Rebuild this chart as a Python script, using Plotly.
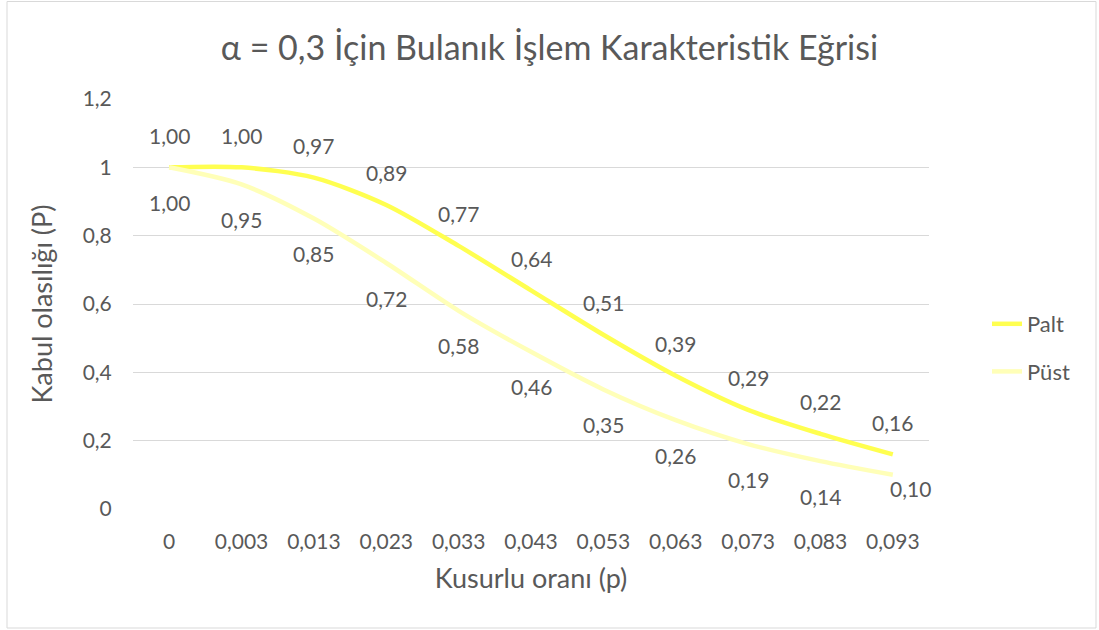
import plotly.graph_objects as go

categories = ["0", "0,003", "0,013", "0,023", "0,033", "0,043", "0,053", "0,063", "0,073", "0,083", "0,093"]
palt = [1.00, 1.00, 0.97, 0.89, 0.77, 0.64, 0.51, 0.39, 0.29, 0.22, 0.16]
pust = [1.00, 0.95, 0.85, 0.72, 0.58, 0.46, 0.35, 0.26, 0.19, 0.14, 0.10]
y_ticks = [0, 0.2, 0.4, 0.6, 0.8, 1.0, 1.2]

FONT = "Lato"
GRAY = "#595959"
C_ALT = "#FFFF50"
C_UST = "#FFFFB8"

fig = go.Figure()
fig.add_trace(go.Scatter(x=categories, y=palt, name="Palt", mode="lines",
                         line=dict(color=C_ALT, width=4.5, shape="spline", smoothing=0.8),
                         legendgroup="a"))
fig.add_trace(go.Scatter(x=categories, y=pust, name="Püst", mode="lines",
                         line=dict(color=C_UST, width=4.5, shape="spline", smoothing=0.8),
                         legendgroup="b"))

def fmt(v):
    return f"{v:.2f}".replace(".", ",")

ann = []
for c, v in zip(categories, palt):
    ann.append(dict(x=c, y=v, text=fmt(v), showarrow=False, yshift=32,
                    font=dict(family=FONT, size=21, color=GRAY)))
n = len(categories)
for i, (c, v) in enumerate(zip(categories, pust)):
    if i == n - 1:
        ann.append(dict(x=c, y=v, text=fmt(v), showarrow=False, yshift=-14, xshift=18,
                        font=dict(family=FONT, size=21, color=GRAY)))
    else:
        ann.append(dict(x=c, y=v, text=fmt(v), showarrow=False, yshift=-35,
                        font=dict(family=FONT, size=21, color=GRAY)))

L, R, T, B = 133, 170, 99, 121
W, H = 1099, 630
pw, ph = W - L - R, H - T - B
fig.add_shape(type="rect", xref="paper", yref="paper",
              x0=(7 - L) / pw, x1=(1096 - L) / pw,
              y0=(H - B - 628) / ph, y1=(H - B - 1.5) / ph,
              line=dict(color="#D9D9D9", width=1), fillcolor="rgba(0,0,0,0)", layer="below")

fig.update_layout(
    width=W, height=H,
    margin=dict(l=L, r=R, t=T, b=B),
    paper_bgcolor="white", plot_bgcolor="white",
    separators=", ",
    font=dict(family=FONT, size=21, color=GRAY),
    title=dict(text="α = 0,3 İçin Bulanık İşlem Karakteristik Eğrisi",
               x=0.5, xref="container", xanchor="center", y=(H - 48) / H, yanchor="middle",
               font=dict(family=FONT, size=34, color=GRAY)),
    xaxis=dict(type="category", range=[-0.5, n - 0.5], showgrid=False, zeroline=False,
               showline=False, ticks="outside", ticklen=14, tickcolor="rgba(0,0,0,0)",
               tickfont=dict(family=FONT, size=21, color=GRAY),
               title=dict(text="Kusurlu oranı (p)", standoff=16,
                          font=dict(family=FONT, size=27, color=GRAY))),
    yaxis=dict(range=[0, 1.2], tickvals=y_ticks, showgrid=True, gridcolor="#D9D9D9",
               gridwidth=1, zeroline=False, showline=False,
               ticks="outside", ticklen=16, tickcolor="rgba(0,0,0,0)",
               tickfont=dict(family=FONT, size=21, color=GRAY),
               title=dict(text="Kabul olasılığı (P)", standoff=22,
                          font=dict(family=FONT, size=27, color=GRAY))),
    legend=dict(x=(987 - L) / pw, xanchor="left", y=(H - B - 348) / ph, yanchor="middle",
                bgcolor="rgba(0,0,0,0)", tracegroupgap=16,
                font=dict(family=FONT, size=22, color=GRAY)),
    annotations=ann,
)

fig.write_html("out.html", config={"displayModeBar": False},
               post_script="document.body.style.margin='0';")
